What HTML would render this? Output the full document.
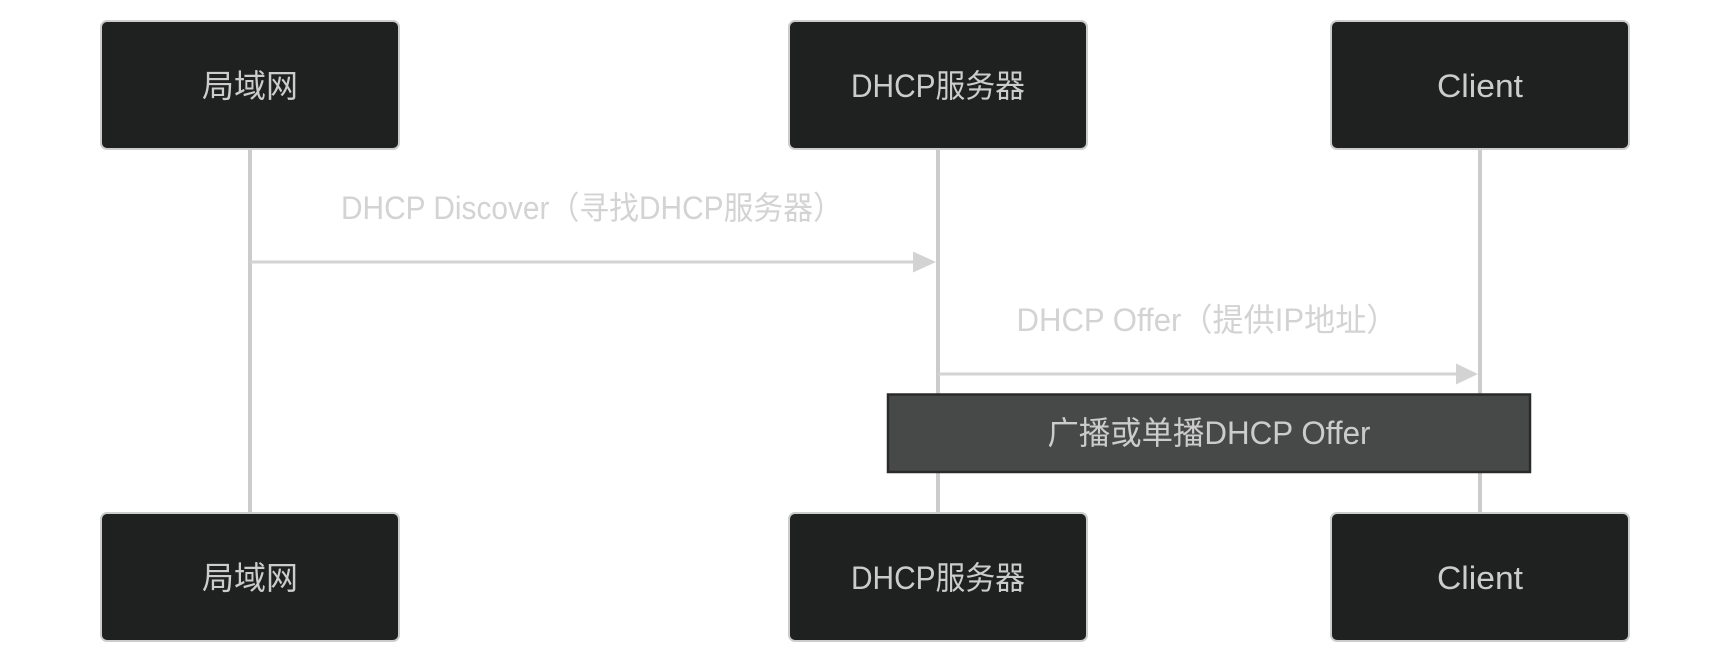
<!DOCTYPE html>
<html>
<head>
<meta charset="utf-8">
<style>
  html, body { margin: 0; padding: 0; background: #ffffff; }
  body { width: 1730px; height: 664px; overflow: hidden; }
  svg { display: block; }
  text { font-family: "Liberation Sans", "Noto Sans CJK SC", sans-serif; }
</style>
</head>
<body>
<svg width="1730" height="664" viewBox="0 0 1730 664" xmlns="http://www.w3.org/2000/svg">
  <rect x="0" y="0" width="1730" height="664" fill="#ffffff"/>

  <!-- lifelines -->
  <line x1="250" y1="150" x2="250" y2="512" stroke="#cccccc" stroke-width="4"/>
  <line x1="938" y1="150" x2="938" y2="512" stroke="#cccccc" stroke-width="4"/>
  <line x1="1480" y1="150" x2="1480" y2="512" stroke="#cccccc" stroke-width="4"/>

  <!-- top actors -->
  <rect x="101" y="21" width="298" height="128" rx="6" ry="6" fill="#1f2020" stroke="#cccccc" stroke-width="2"/>
  <text x="250" y="86" fill="#cccccc" font-size="32" text-anchor="middle" dominant-baseline="central">局域网</text>

  <rect x="789" y="21" width="298" height="128" rx="6" ry="6" fill="#1f2020" stroke="#cccccc" stroke-width="2"/>
  <text x="938" y="86" fill="#cccccc" font-size="32" text-anchor="middle" dominant-baseline="central" textLength="174" lengthAdjust="spacingAndGlyphs">DHCP服务器</text>

  <rect x="1331" y="21" width="298" height="128" rx="6" ry="6" fill="#1f2020" stroke="#cccccc" stroke-width="2"/>
  <text x="1480" y="86" fill="#cccccc" font-size="32" text-anchor="middle" dominant-baseline="central" textLength="86" lengthAdjust="spacingAndGlyphs">Client</text>

  <!-- message 1 -->
  <text x="592" y="208" fill="#d3d3d3" font-size="32" text-anchor="middle" dominant-baseline="central" textLength="502" lengthAdjust="spacingAndGlyphs">DHCP Discover（寻找DHCP服务器）</text>
  <line x1="250" y1="262" x2="916" y2="262" stroke="#d3d3d3" stroke-width="3"/>
  <polygon points="913,251.5 936,262 913,272.5" fill="#d3d3d3"/>

  <!-- message 2 -->
  <text x="1207" y="320" fill="#d3d3d3" font-size="32" text-anchor="middle" dominant-baseline="central" textLength="381" lengthAdjust="spacingAndGlyphs">DHCP Offer（提供IP地址）</text>
  <line x1="938" y1="374" x2="1458" y2="374" stroke="#d3d3d3" stroke-width="3"/>
  <polygon points="1456,363.5 1478,374 1456,384.5" fill="#d3d3d3"/>

  <!-- note -->
  <rect x="888" y="394.5" width="642" height="77.5" fill="#474949" stroke="#2a2a2a" stroke-width="2.5"/>
  <text x="1209" y="433" fill="#cccccc" font-size="32" text-anchor="middle" dominant-baseline="central" textLength="323" lengthAdjust="spacingAndGlyphs">广播或单播DHCP Offer</text>

  <!-- bottom actors -->
  <rect x="101" y="513" width="298" height="128" rx="6" ry="6" fill="#1f2020" stroke="#cccccc" stroke-width="2"/>
  <text x="250" y="578" fill="#cccccc" font-size="32" text-anchor="middle" dominant-baseline="central">局域网</text>

  <rect x="789" y="513" width="298" height="128" rx="6" ry="6" fill="#1f2020" stroke="#cccccc" stroke-width="2"/>
  <text x="938" y="578" fill="#cccccc" font-size="32" text-anchor="middle" dominant-baseline="central" textLength="174" lengthAdjust="spacingAndGlyphs">DHCP服务器</text>

  <rect x="1331" y="513" width="298" height="128" rx="6" ry="6" fill="#1f2020" stroke="#cccccc" stroke-width="2"/>
  <text x="1480" y="578" fill="#cccccc" font-size="32" text-anchor="middle" dominant-baseline="central" textLength="86" lengthAdjust="spacingAndGlyphs">Client</text>
</svg>
</body>
</html>
